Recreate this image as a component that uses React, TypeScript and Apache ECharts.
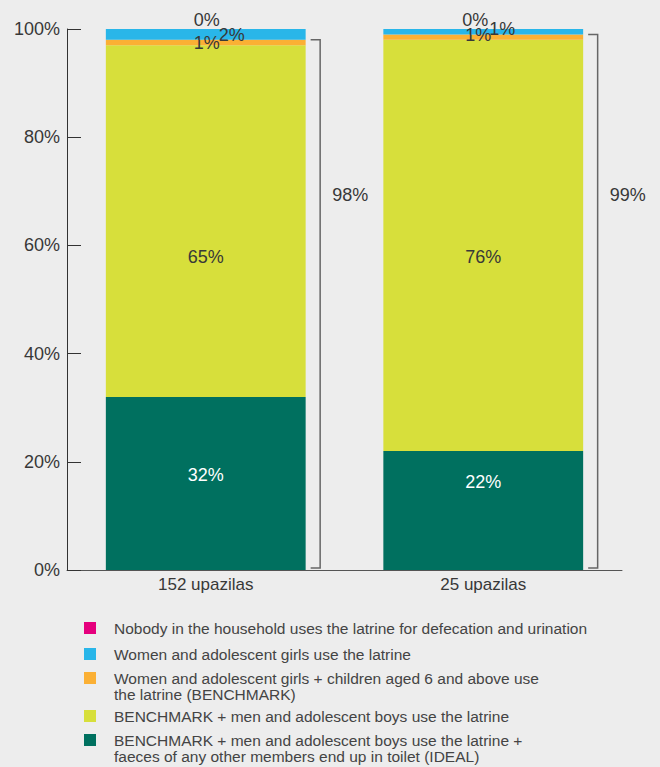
import React, { useEffect, useRef } from "react";
import * as echarts from "echarts";

const categories = ["152 upazilas", "25 upazilas"];
const seriesNames = [
  "Nobody in the household uses the latrine for defecation and urination",
  "Women and adolescent girls use the latrine",
  "Women and adolescent girls + children aged 6 and above use the latrine (BENCHMARK)",
  "BENCHMARK + men and adolescent boys use the latrine",
  "BENCHMARK + men and adolescent boys use the latrine + faeces of any other members end up in toilet (IDEAL)",
];
const legendLines = [
  ["Nobody in the household uses the latrine for defecation and urination"],
  ["Women and adolescent girls use the latrine"],
  ["Women and adolescent girls + children aged 6 and above use", "the latrine (BENCHMARK)"],
  ["BENCHMARK + men and adolescent boys use the latrine"],
  ["BENCHMARK + men and adolescent boys use the latrine +", "faeces of any other members end up in toilet (IDEAL)"],
];
const nobodyValues = [0, 0];
const womenValues = [2, 1];
const benchmarkValues = [1, 1];
const benchmarkMenValues = [65, 76];
const idealValues = [32, 22];
const bracketTotals = [98, 99];
const yTickStep = 20;

const colors = ["#E5007D", "#29B6E9", "#FBB034", "#D7DF3B", "#00705F"];
const FONT = '"Liberation Sans", Arial, Helvetica, sans-serif';
const TEXT = "#383838";

// label offsets (style only)
const nobodyOffsets = [[1, 0], [-8, 0]];
const womenOffsets = [[26, 1], [19, -3]];
const benchmarkOffsets = [[1, 0], [-5, -2]];
const benchmarkMenOffsets = [[0, 36], [0, 12]];
const idealOffsets = [[0, -8], [0, -28]];
const legendTops = [620, 646, 654, 708, 716];

function withOffsets(values: number[], offsets?: number[][]) {
  return values.map((v, i) => ({
    value: v,
    label: offsets ? { offset: offsets[i] } : undefined,
  }));
}

export default function App() {
  const ref = useRef<HTMLDivElement>(null);
  useEffect(() => {
    document.body.style.margin = "0";
    const chart = echarts.init(ref.current!, null, { renderer: "svg" });
    const labelBase = {
      show: true,
      formatter: "{c}%",
      fontSize: 18,
      fontFamily: FONT,
      color: TEXT,
    };
    const barCommon = {
      type: "bar",
      stack: "total",
      barWidth: "72%",
      emphasis: { disabled: true },
    };
    const option: any = {
      animation: false,
      backgroundColor: "#EDEDED",
      textStyle: { fontFamily: FONT },
      grid: { left: 67, right: 38, top: 29, bottom: 197, containLabel: false },
      xAxis: {
        type: "category",
        data: categories,
        axisLine: { lineStyle: { color: "#555", width: 1 } },
        axisTick: { inside: true, length: 16, lineStyle: { color: "#555" } },
        axisLabel: { fontSize: 17, color: TEXT, margin: 6, fontFamily: FONT },
      },
      yAxis: {
        type: "value",
        min: 0,
        max: 100,
        interval: yTickStep,
        splitLine: { show: false },
        axisLine: { show: true, lineStyle: { color: "#333", width: 1 } },
        axisTick: { show: true, inside: true, length: 14, lineStyle: { color: "#333" } },
        axisLabel: { formatter: "{value}%", fontSize: 18, color: TEXT, margin: 7, fontFamily: FONT },
      },
      legend: seriesNames.map((name, i) => ({
        data: [name],
        left: 84,
        top: legendTops[i],
        orient: "vertical",
        padding: 0,
        icon: "rect",
        itemWidth: 12,
        itemHeight: 12,
        selectedMode: false,
        formatter: () =>
          legendLines[i].length > 1 ? "\n" + legendLines[i].join("\n") : legendLines[i][0],
        textStyle: {
          fontSize: 15.5,
          lineHeight: 16,
          color: "#444",
          fontFamily: FONT,
          padding: [0, 0, 0, 13],
        },
      })),
      series: [
        {
          ...barCommon,
          name: seriesNames[4],
          data: withOffsets(idealValues, idealOffsets),
          itemStyle: { color: colors[4] },
          label: { ...labelBase, position: "inside", color: "#fff" },
        },
        {
          ...barCommon,
          name: seriesNames[3],
          data: withOffsets(benchmarkMenValues, benchmarkMenOffsets),
          itemStyle: { color: colors[3] },
          label: { ...labelBase, position: "inside" },
        },
        {
          ...barCommon,
          name: seriesNames[2],
          data: withOffsets(benchmarkValues, benchmarkOffsets),
          itemStyle: { color: colors[2] },
          label: { ...labelBase, position: "inside" },
        },
        {
          ...barCommon,
          name: seriesNames[1],
          data: withOffsets(womenValues, womenOffsets),
          itemStyle: { color: colors[1] },
          label: { ...labelBase, position: "inside" },
        },
        {
          ...barCommon,
          name: seriesNames[0],
          data: withOffsets(nobodyValues, nobodyOffsets),
          itemStyle: { color: colors[0] },
          label: { ...labelBase, position: "top", distance: 0 },
        },
        {
          type: "custom",
          name: "bracket",
          silent: true,
          z: 10,
          encode: { x: 0, y: 1 },
          data: bracketTotals.map((t, i) => [i, t]),
          renderItem: (params: any, api: any) => {
            const idx = api.value(0);
            const total = api.value(1);
            const top = api.coord([idx, total]);
            const bottom = api.coord([idx, 0]);
            const band = api.size([1, 0])[0];
            const barRight = top[0] + (band * 0.72) / 2;
            const x0 = barRight + 5;
            const x1 = barRight + 14.5;
            const yB = bottom[1] - 2;
            const lab = api.coord([idx, 69.3]);
            return {
              type: "group",
              children: [
                {
                  type: "polyline",
                  shape: { points: [[x0, top[1]], [x1, top[1]], [x1, yB], [x0, yB]] },
                  style: { stroke: "#666", lineWidth: 1.5, fill: "none" },
                },
                {
                  type: "text",
                  style: {
                    text: total + "%",
                    x: x1 + 12,
                    y: lab[1],
                    fontSize: 18,
                    fontFamily: FONT,
                    fill: TEXT,
                    verticalAlign: "middle",
                    align: "left",
                  },
                },
              ],
            };
          },
        },
      ],
    };
    chart.setOption(option);
    return () => chart.dispose();
  }, []);
  return <div ref={ref} style={{ width: 660, height: 767 }} />;
}
